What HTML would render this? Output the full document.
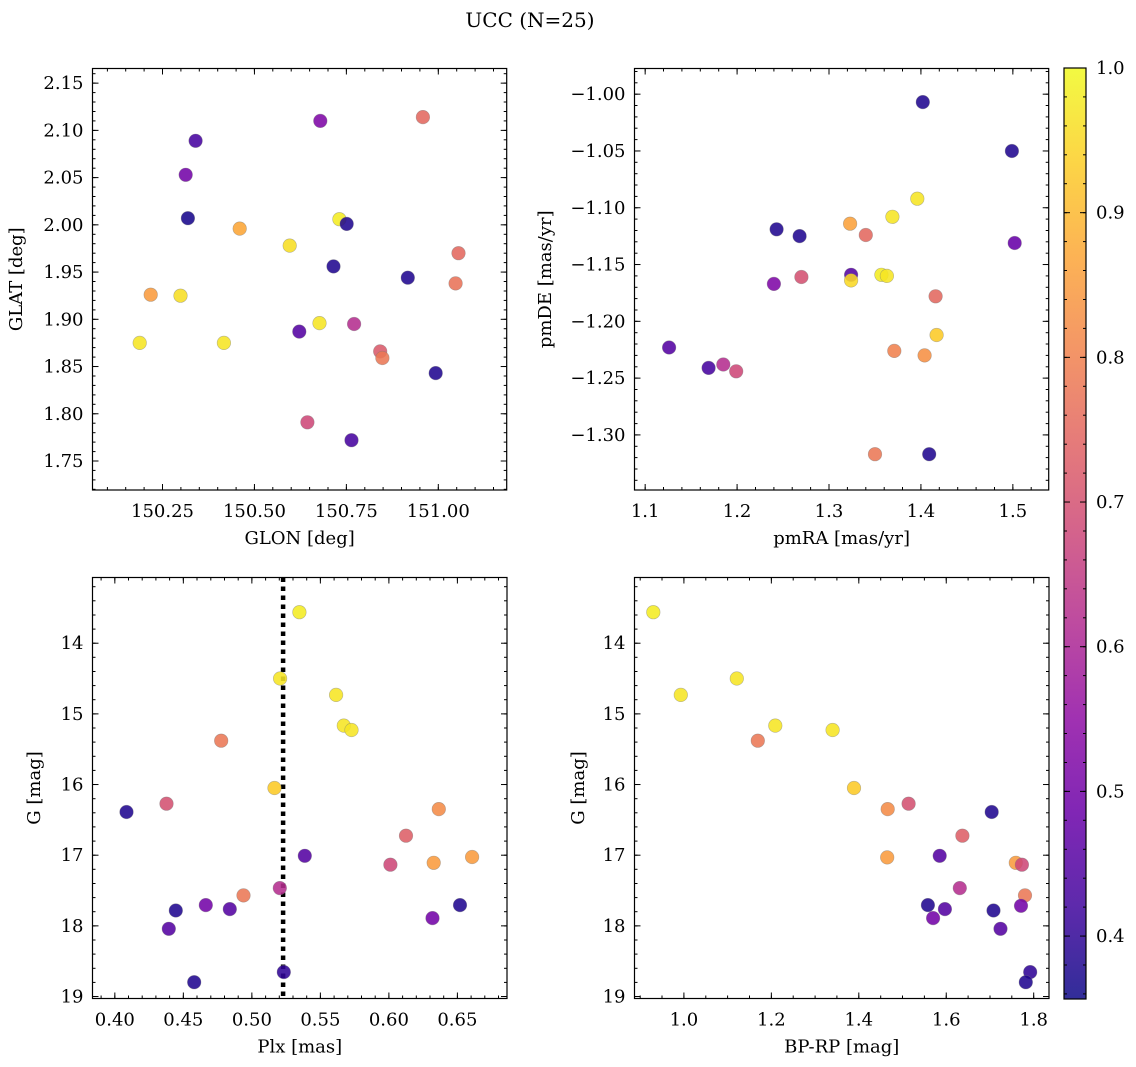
<!DOCTYPE html>
<html><head><meta charset="utf-8"><style>
html,body{margin:0;padding:0;background:#fff;}
svg{display:block;font-family:"DejaVu Serif","Liberation Serif",serif;}
</style></head><body>
<svg id="fig" width="1136" height="1067" viewBox="0 0 1136 1067" xmlns="http://www.w3.org/2000/svg">
<text x="530" y="27" font-size="20" text-anchor="middle">UCC (N=25)</text>
</svg>
<script>
// ---- Panel 1: GLON vs GLAT ----
const glonX = [150.188,150.218,150.299,150.417,150.313,150.340,150.319,150.460,150.596,150.679,150.731,150.751,150.715,150.622,150.677,150.771,150.644,150.764,150.842,150.848,150.917,150.958,150.993,151.055,151.047];
const glatY = [1.875,1.926,1.925,1.875,2.053,2.089,2.007,1.996,1.978,2.110,2.006,2.001,1.956,1.887,1.896,1.895,1.791,1.772,1.866,1.859,1.944,2.114,1.843,1.970,1.938];
const glonC = [0.97,0.85,0.96,0.97,0.50,0.43,0.37,0.87,0.96,0.52,0.98,0.38,0.38,0.45,0.97,0.62,0.68,0.43,0.72,0.78,0.38,0.75,0.38,0.75,0.77];
const glonTicks = [150.25,150.50,150.75,151.00];
const glatTicks = [1.75,1.80,1.85,1.90,1.95,2.00,2.05,2.10,2.15];
// ---- Panel 2: pmRA vs pmDE ----
const pmraX = [1.402,1.499,1.396,1.369,1.323,1.340,1.243,1.268,1.502,1.324,1.324,1.357,1.363,1.270,1.240,1.416,1.417,1.371,1.404,1.126,1.169,1.185,1.199,1.350,1.409];
const pmdeY = [-1.007,-1.050,-1.092,-1.108,-1.114,-1.124,-1.119,-1.125,-1.131,-1.159,-1.164,-1.159,-1.160,-1.161,-1.167,-1.178,-1.212,-1.226,-1.230,-1.223,-1.241,-1.238,-1.244,-1.317,-1.317];
const pmC = [0.38,0.38,0.97,0.97,0.86,0.75,0.38,0.38,0.48,0.45,0.95,0.98,0.97,0.70,0.52,0.75,0.93,0.80,0.83,0.45,0.43,0.62,0.68,0.78,0.38];
const pmraTicks = [1.1,1.2,1.3,1.4,1.5];
const pmdeTicks = [-1.30,-1.25,-1.20,-1.15,-1.10,-1.05,-1.00];
// ---- Panel 3: Plx vs G ----
const plxX = [0.5347,0.5206,0.5615,0.5671,0.5727,0.4776,0.5165,0.4377,0.4085,0.6364,0.6125,0.5386,0.6011,0.6327,0.6607,0.5204,0.4939,0.4664,0.4839,0.4445,0.6519,0.6318,0.4394,0.5233,0.4579];
const plxG = [13.561,14.500,14.732,15.166,15.228,15.379,16.049,16.271,16.389,16.347,16.724,17.008,17.135,17.107,17.026,17.466,17.569,17.706,17.763,17.782,17.706,17.890,18.042,18.655,18.797];
const plxC = [0.98,0.97,0.97,0.97,0.97,0.78,0.93,0.70,0.38,0.82,0.73,0.45,0.68,0.85,0.85,0.62,0.78,0.50,0.45,0.38,0.38,0.50,0.45,0.40,0.38];
const plxRef = [0.5228];
const plxTicks = [0.40,0.45,0.50,0.55,0.60,0.65];
const gTicks = [14,15,16,17,18,19];
// ---- Panel 4: BP-RP vs G ----
const bprpX = [0.930,0.993,1.121,1.209,1.169,1.340,1.389,1.466,1.514,1.704,1.637,1.585,1.465,1.759,1.773,1.631,1.780,1.558,1.771,1.597,1.708,1.570,1.724,1.792,1.782];
const bprpG = [13.561,14.732,14.500,15.166,15.379,15.228,16.049,16.347,16.271,16.389,16.724,17.008,17.031,17.107,17.135,17.466,17.569,17.706,17.716,17.763,17.782,17.890,18.042,18.655,18.797];
const bprpC = [0.98,0.97,0.97,0.97,0.78,0.97,0.93,0.82,0.70,0.38,0.73,0.45,0.85,0.85,0.68,0.62,0.78,0.38,0.50,0.45,0.38,0.50,0.45,0.40,0.38];
const bprpTicks = [1.0,1.2,1.4,1.6,1.8];
// ---- Colorbar ----
const cbTicks = [0.4,0.5,0.6,0.7,0.8,0.9,1.0];
const cbMin = 0.3565, cbMax = 1.0;

const NS = "http://www.w3.org/2000/svg";
const svg = document.getElementById('fig');
const plasma = [[13,8,135],[65,4,157],[106,0,168],[143,13,164],[177,42,144],[204,71,120],[225,100,98],[242,132,75],[252,166,54],[252,206,37],[240,249,33]];
function cmap(v){
  let t=(v-cbMin)/(cbMax-cbMin); t=Math.max(0,Math.min(1,t))*10;
  const i=Math.min(9,Math.floor(t)), f=t-i, a=plasma[i], b=plasma[i+1];
  return 'rgb('+[0,1,2].map(k=>Math.round(a[k]+(b[k]-a[k])*f)).join(',')+')';
}
function mk(tag, attrs, parent){
  const e=document.createElementNS(NS,tag);
  for(const k in attrs) e.setAttribute(k,attrs[k]);
  (parent||svg).appendChild(e); return e;
}
function fmt(v,d){ const s=v.toFixed(d); return s.replace('-','\u2212'); }

function panel(opt){
  const g=mk('g',{});
  
  
  const L=opt.x0,R=opt.x1,T=opt.y0,B=opt.y1;
  const sx=v=>L+(v-opt.xd[0])/(opt.xd[1]-opt.xd[0])*(R-L);
  const sy=opt.yinv ? (v=>T+(v-opt.yd[0])/(opt.yd[1]-opt.yd[0])*(B-T)) : (v=>B-(v-opt.yd[0])/(opt.yd[1]-opt.yd[0])*(B-T));
  const ticks=mk('g',{stroke:'#000','stroke-width':1},g);
  
  
  const xlo=Math.min(...opt.xd), xhi=Math.max(...opt.xd);
  for(let v=Math.ceil(xlo/opt.xm-1e-6)*opt.xm; v<=xhi+1e-9; v+=opt.xm){
    const x=sx(v).toFixed(1);
    mk('line',{x1:x,x2:x,y1:B,y2:B-3},ticks); mk('line',{x1:x,x2:x,y1:T,y2:T+3},ticks);
  }
  const ylo=Math.min(...opt.yd), yhi=Math.max(...opt.yd);
  for(let v=Math.ceil(ylo/opt.ym-1e-6)*opt.ym; v<=yhi+1e-9; v+=opt.ym){
    const y=sy(v).toFixed(1);
    mk('line',{x1:L,x2:L+3,y1:y,y2:y},ticks); mk('line',{x1:R,x2:R-3,y1:y,y2:y},ticks);
  }
  opt.xt.forEach(v=>{
    const x=sx(v);
    mk('line',{x1:x,x2:x,y1:B,y2:B-6},ticks); mk('line',{x1:x,x2:x,y1:T,y2:T+6},ticks);
    const t=mk('text',{x:x,y:B+27,'font-size':18,'text-anchor':'middle'},g);
    t.textContent=fmt(v,opt.xdp);
    
    
  });
  opt.yt.forEach(v=>{
    const y=sy(v);
    mk('line',{x1:L,x2:L+6,y1:y,y2:y},ticks); mk('line',{x1:R,x2:R-6,y1:y,y2:y},ticks);
    const t=mk('text',{x:L-9,y:y+6,'font-size':18,'text-anchor':'end'},g);
    t.textContent=fmt(v,opt.ydp);
    
    
  });
  if(opt.vline){
    opt.vline.forEach(v=>{
      const l=mk('line',{x1:sx(v),x2:sx(v),y1:T,y2:B,stroke:'#000','stroke-width':4.5,'stroke-dasharray':'4.5 4.5'},g);
      
      
    });
  }
  opt.xs.forEach((xv,i)=>{
    const c=mk('circle',{cx:sx(xv).toFixed(1),cy:sy(opt.ys[i]).toFixed(1),r:6.8,fill:cmap(opt.cs[i]),'fill-opacity':0.88,stroke:'#777','stroke-opacity':0.5,'stroke-width':0.6},g);
    
    
  });
  mk('rect',{x:L,y:T,width:R-L,height:B-T,fill:'none',stroke:'#000','stroke-width':1.2},g);
  const xl=mk('text',{x:(L+R)/2,y:B+54,'font-size':18,'text-anchor':'middle'},g);
  xl.textContent=opt.xlabel;
  
  
  const yx=opt.ylx, yy=(T+B)/2;
  const yl=mk('text',{x:yx,y:yy,'font-size':18,'text-anchor':'middle',transform:'rotate(-90 '+yx+' '+yy+')'},g);
  yl.textContent=opt.ylabel;
  
  
}

panel({name:'glon-glat-panel',x0:92.5,x1:506.7,y0:68.5,y1:490,xd:[150.0596,151.186],yd:[1.7193,2.1655],xt:glonTicks,yt:glatTicks,xm:0.05,ym:0.01,xdp:2,ydp:2,xs:glonX,ys:glatY,cs:glonC,xlabel:'GLON [deg]',ylabel:'GLAT [deg]',ylx:22});
panel({name:'pm-panel',x0:634.5,x1:1048.7,y0:68.5,y1:490,xd:[1.0884,1.539],yd:[-1.3485,-0.9774],xt:pmraTicks,yt:pmdeTicks,xm:0.02,ym:0.01,xdp:1,ydp:2,xs:pmraX,ys:pmdeY,cs:pmC,xlabel:'pmRA [mas/yr]',ylabel:'pmDE [mas/yr]',ylx:551});
panel({name:'plx-g-panel',x0:92.5,x1:507,y0:577.5,y1:998.5,xd:[0.3837,0.6862],yd:[13.070,19.028],yinv:true,xt:plxTicks,yt:gTicks,xm:0.01,ym:0.2,xdp:2,ydp:0,xs:plxX,ys:plxG,cs:plxC,vline:plxRef,xlabel:'Plx [mas]',ylabel:'G [mag]',ylx:40});
panel({name:'cmd-panel',x0:634.5,x1:1049,y0:577.5,y1:998.5,xd:[0.887,1.835],yd:[13.070,19.028],yinv:true,xt:bprpTicks,yt:gTicks,xm:0.05,ym:0.2,xdp:1,ydp:0,xs:bprpX,ys:bprpG,cs:bprpC,xlabel:'BP-RP [mag]',ylabel:'G [mag]',ylx:584});

(function(){
  const L=1064,R=1086,T=68,B=999;
  const cb=mk('g',{});
  
  
  const defs=mk('defs',{},cb);
  const grad=mk('linearGradient',{id:'plasmaGrad',x1:0,y1:1,x2:0,y2:0},defs);
  plasma.forEach((c,i)=>{
    mk('stop',{offset:(i/10),'stop-color':'rgb('+c.join(',')+')','stop-opacity':0.85},grad);
  });
  mk('rect',{x:L,y:T,width:R-L,height:B-T,fill:'url(#plasmaGrad)'},cb);
  const sy=v=>B-(v-cbMin)/(cbMax-cbMin)*(B-T);
  for(let v=0.36; v<=1.0001; v+=0.02){
    const y=sy(v).toFixed(1);
    mk('line',{x1:R,x2:R-3,y1:y,y2:y,stroke:'#000'},cb);
    mk('line',{x1:L,x2:L+3,y1:y,y2:y,stroke:'#000'},cb);
  }
  cbTicks.forEach(v=>{
    const y=sy(v);
    mk('line',{x1:R,x2:R-6,y1:y,y2:y,stroke:'#000'},cb);
    mk('line',{x1:L,x2:L+6,y1:y,y2:y,stroke:'#000'},cb);
    const t=mk('text',{x:R+10,y:y+6,'font-size':18},cb);
    t.textContent=v.toFixed(1);
    
    
  });
  mk('rect',{x:L,y:T,width:R-L,height:B-T,fill:'none',stroke:'#000','stroke-width':1.2},cb);
})();
</script>
</body></html>
